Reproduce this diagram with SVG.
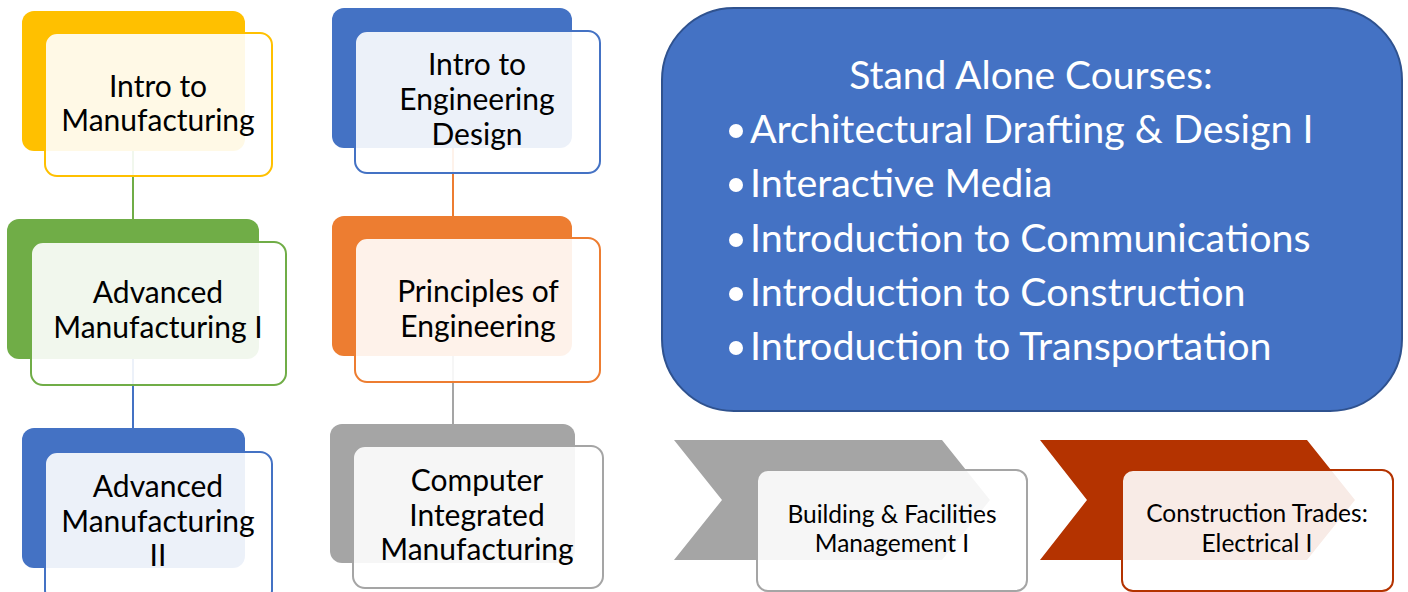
<svg xmlns="http://www.w3.org/2000/svg" width="1408" height="592" viewBox="0 0 1408 592">
<defs>
<style>
.t{font-family:Lato,"Open Sans","Liberation Sans",sans-serif;fill:#000;text-anchor:middle}
.n{font-size:30px}
.s{font-size:24.5px}
.front{fill:#fff;fill-opacity:0.9;stroke-width:2}
.big{font-family:Lato,"Open Sans","Liberation Sans",sans-serif;fill:#fff}
.conn{stroke-width:2;fill:none}
</style>
</defs>
<rect width="1408" height="592" fill="#fff"/>
<g id="connectors">
<line class="conn" x1="133" y1="150" x2="133" y2="220" stroke="#70AD47"/>
<line class="conn" x1="133" y1="359" x2="133" y2="429" stroke="#4472C4"/>
<line class="conn" x1="453" y1="148" x2="453" y2="217" stroke="#ED7D31"/>
<line class="conn" x1="453" y1="356" x2="453" y2="425" stroke="#A5A5A5"/>
</g>
<g id="intro-manufacturing">
<rect x="22" y="11" width="223" height="140" rx="12" fill="#FFC000"/>
<rect class="front" x="45" y="33" width="227" height="143" rx="12" stroke="#FFC000"/>
<text class="t n" x="158" y="97">Intro to</text>
<text class="t n" x="158" y="131">Manufacturing</text>
</g>
<g id="adv-manufacturing-1">
<rect x="7" y="219" width="252" height="140" rx="12" fill="#70AD47"/>
<rect class="front" x="31" y="242" width="255" height="143" rx="12" stroke="#70AD47"/>
<text class="t n" x="158" y="303">Advanced</text>
<text class="t n" x="158" y="338">Manufacturing I</text>
</g>
<g id="adv-manufacturing-2">
<rect x="22" y="428" width="223" height="140" rx="12" fill="#4472C4"/>
<rect class="front" x="45" y="452" width="227" height="150" rx="12" stroke="#4472C4"/>
<text class="t n" x="158" y="497">Advanced</text>
<text class="t n" x="158" y="532">Manufacturing</text>
<text class="t n" x="158" y="566">II</text>
</g>
<g id="intro-engineering-design">
<rect x="332" y="8" width="240" height="140" rx="12" fill="#4472C4"/>
<rect class="front" x="355" y="31" width="245" height="142" rx="12" stroke="#4472C4"/>
<text class="t n" x="477" y="75">Intro to</text>
<text class="t n" x="477" y="110">Engineering</text>
<text class="t n" x="477" y="145">Design</text>
</g>
<g id="principles-engineering">
<rect x="332" y="216" width="240" height="140" rx="12" fill="#ED7D31"/>
<rect class="front" x="355" y="238" width="245" height="144" rx="12" stroke="#ED7D31"/>
<text class="t n" x="478" y="302">Principles of</text>
<text class="t n" x="478" y="337">Engineering</text>
</g>
<g id="computer-integrated-manufacturing">
<rect x="330" y="424" width="245" height="139" rx="12" fill="#A5A5A5"/>
<rect class="front" x="353" y="446" width="250" height="142" rx="12" stroke="#A5A5A5"/>
<text class="t n" x="477" y="491">Computer</text>
<text class="t n" x="477" y="526">Integrated</text>
<text class="t n" x="477" y="560">Manufacturing</text>
</g>
<g id="stand-alone-courses">
<rect x="662" y="8" width="740" height="403" rx="72" fill="#4472C4" stroke="#2F528F" stroke-width="2"/>
<text class="big" x="1031" y="89" font-size="39" text-anchor="middle">Stand Alone Courses:</text>
<g font-size="39.4">
<circle cx="736" cy="131" r="7" fill="#fff"/>
<text class="big" x="750" y="143">Architectural Drafting &amp; Design I</text>
<circle cx="736" cy="185" r="7" fill="#fff"/>
<text class="big" x="750" y="197">Interactive Media</text>
<circle cx="736" cy="240" r="7" fill="#fff"/>
<text class="big" x="750" y="252">Introduction to Communications</text>
<circle cx="736" cy="294" r="7" fill="#fff"/>
<text class="big" x="750" y="306">Introduction to Construction</text>
<circle cx="736" cy="348" r="7" fill="#fff"/>
<text class="big" x="750" y="360">Introduction to Transportation</text>
</g>
</g>
<g id="building-facilities">
<polygon points="674,440 942,440 990,500 942,560 674,560 722,500" fill="#A5A5A5"/>
<rect class="front" x="757" y="470" width="270" height="121" rx="11" stroke="#A5A5A5"/>
<text class="t s" x="892" y="523">Building &amp; Facilities</text>
<text class="t s" x="892" y="552">Management I</text>
</g>
<g id="construction-electrical">
<polygon points="1040,440 1307,440 1355,500 1307,560 1040,560 1087,500" fill="#B43300"/>
<rect class="front" x="1122" y="470" width="271" height="121" rx="11" stroke="#B43300"/>
<text class="t s" x="1257" y="522">Construction Trades:</text>
<text class="t s" x="1257" y="552">Electrical I</text>
</g>
</svg>
